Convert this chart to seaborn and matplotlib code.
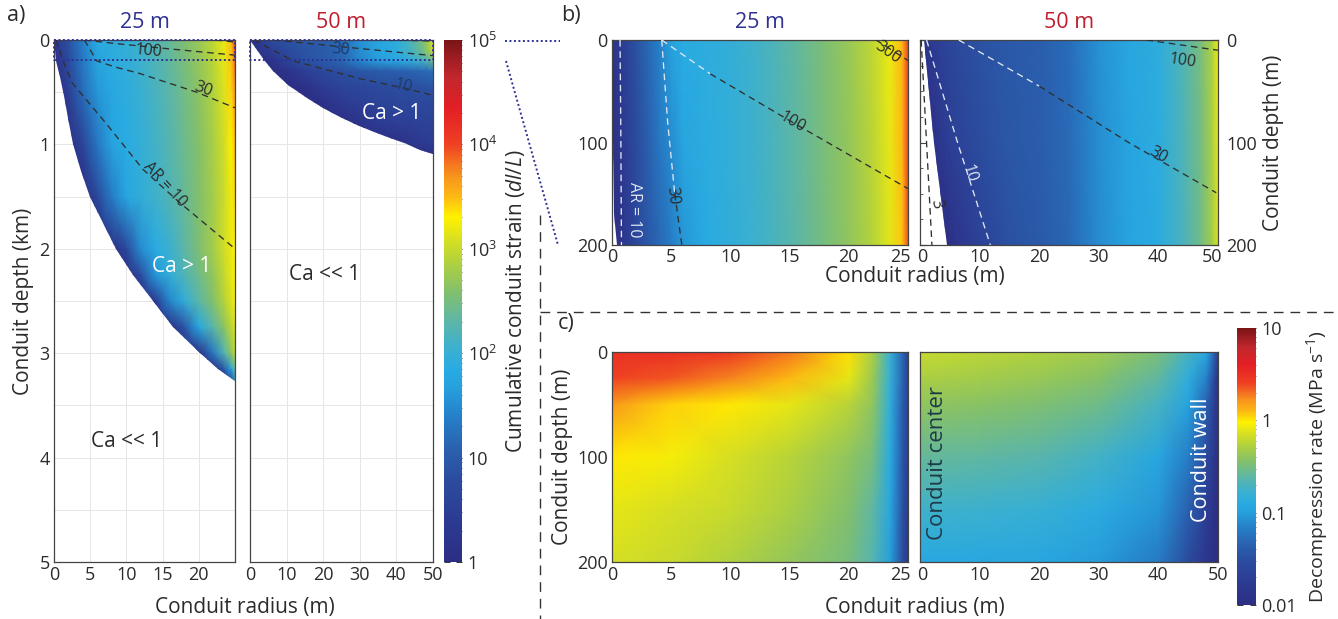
import numpy as np
import matplotlib
matplotlib.use("Agg")
import matplotlib.pyplot as plt
import matplotlib.transforms as mtrans
import seaborn as sns
from matplotlib.colors import LinearSegmentedColormap, LogNorm, Normalize
from matplotlib.patches import Polygon
from matplotlib.lines import Line2D
from matplotlib.cm import ScalarMappable
from matplotlib.ticker import MultipleLocator, NullFormatter

sns.set_theme(style="white")
plt.rcParams['font.family'] = ['Open Sans', 'DejaVu Sans']
plt.rcParams['mathtext.fontset'] = 'custom'
plt.rcParams['mathtext.rm'] = 'Open Sans'
plt.rcParams['mathtext.it'] = 'Open Sans:italic'

# ======================= DATA =======================
# colour map stops (fraction, colour)
cmap_pos = [0.0, 0.08, 0.16, 0.22, 0.28, 0.34, 0.37, 0.41, 0.46, 0.52, 0.58, 0.62, 0.66, 0.70, 0.74, 0.80, 0.87, 0.93, 1.0]
cmap_col = ['#2c2e83', '#2c3b92', '#2b4d9f', '#2a62b0', '#2581c9', '#27a3de', '#29abe2', '#3cb0cf',
            '#5cb6a8', '#84c06a', '#b5d33a', '#d9e021', '#fff200', '#fdb913', '#f7941d', '#ef4123',
            '#e31e25', '#c1272d', '#7a1416']

# ---- panel a, 25 m conduit (depth km) : log10 cumulative strain ----
a25_r = [0, 2, 4, 6, 8, 10, 12, 14, 16, 18, 20, 22, 23.5, 24.5, 25]
a25_z = [0, 0.5, 1.0, 1.5, 2.0, 2.25, 2.5, 2.75, 3.0, 3.15, 3.3]
a25_log = [
    [0.15, 0.85, 1.40, 1.85, 1.90, 1.97, 2.08, 2.22, 2.38, 2.55, 2.72, 2.95, 3.20, 3.50, 4.00],
    [0.00, 0.50, 1.20, 1.60, 1.80, 1.90, 2.02, 2.15, 2.30, 2.47, 2.65, 2.88, 3.12, 3.40, 3.70],
    [0.00, 0.00, 0.60, 1.30, 1.70, 1.85, 1.97, 2.10, 2.25, 2.42, 2.60, 2.83, 3.05, 3.30, 3.50],
    [0.00, 0.00, 0.00, 0.70, 1.35, 1.75, 1.95, 2.08, 2.22, 2.38, 2.58, 2.80, 3.02, 3.22, 3.40],
    [0.00, 0.00, 0.00, 0.00, 0.00, 0.70, 1.50, 1.85, 2.05, 2.30, 2.55, 2.80, 3.05, 3.20, 3.30],
    [0.00, 0.00, 0.00, 0.00, 0.00, 0.00, 0.80, 1.60, 1.95, 2.20, 2.45, 2.70, 2.98, 3.18, 3.28],
    [0.00, 0.00, 0.00, 0.00, 0.00, 0.00, 0.00, 0.40, 1.45, 1.95, 2.30, 2.60, 2.90, 3.12, 3.25],
    [0.00, 0.00, 0.00, 0.00, 0.00, 0.00, 0.00, 0.00, 0.00, 0.90, 1.75, 2.30, 2.65, 2.95, 3.10],
    [0.00, 0.00, 0.00, 0.00, 0.00, 0.00, 0.00, 0.00, 0.00, 0.00, 0.00, 1.30, 2.20, 2.70, 2.95],
    [0.00, 0.00, 0.00, 0.00, 0.00, 0.00, 0.00, 0.00, 0.00, 0.00, 0.00, 0.00, 1.00, 1.80, 2.40],
    [0.00, 0.00, 0.00, 0.00, 0.00, 0.00, 0.00, 0.00, 0.00, 0.00, 0.00, 0.00, 0.00, 0.00, 1.50],
]
a25_bnd_r = [0, 0.1, 0.3, 0.8, 1.4, 2.0, 2.6, 3.7, 5.0, 6.8, 8.6, 10.9, 13.3, 16.5, 20.2, 22.6, 25.0]
a25_bnd_z = [0, 0.1, 0.2, 0.35, 0.54, 0.75, 1.0, 1.25, 1.5, 1.75, 2.0, 2.25, 2.46, 2.75, 3.0, 3.15, 3.27]
a25_ar10_r = [0.3, 1.2, 2.5, 7.2, 12.3, 17.4, 25]
a25_ar10_z = [0, 0.19, 0.41, 0.8, 1.24, 1.56, 2.0]
a25_ar30_r = [4.2, 5.9, 8.5, 11.8, 19.7, 25]
a25_ar30_z = [0, 0.2, 0.26, 0.32, 0.5, 0.65]
a25_ar100_r = [4.2, 8.3, 15.2, 25]
a25_ar100_z = [0, 0.033, 0.08, 0.145]
a25_ar300_r = [22.3, 25]
a25_ar300_z = [0, 0.02]

# ---- panel a, 50 m conduit (depth km) ----
a50_r = [0, 5, 10, 15, 20, 25, 30, 35, 40, 44, 47, 49, 50]
a50_z = [0, 0.1, 0.2, 0.3, 0.45, 0.6, 0.8, 1.0, 1.1]
a50_log = [
    [0.00, 0.65, 0.87, 0.97, 1.05, 1.20, 1.55, 1.75, 1.90, 2.20, 2.50, 2.85, 3.20],
    [0.00, 0.45, 0.75, 0.90, 1.00, 1.15, 1.50, 1.72, 1.88, 2.15, 2.45, 2.80, 3.10],
    [0.00, 0.10, 0.55, 0.85, 0.98, 1.12, 1.45, 1.65, 1.78, 1.95, 2.10, 2.30, 2.50],
    [0.00, 0.00, 0.15, 0.50, 0.70, 0.82, 0.92, 1.00, 1.05, 1.10, 1.15, 1.20, 1.25],
    [0.00, 0.00, 0.00, 0.10, 0.45, 0.60, 0.68, 0.74, 0.80, 0.83, 0.86, 0.88, 0.90],
    [0.00, 0.00, 0.00, 0.00, 0.10, 0.40, 0.52, 0.60, 0.65, 0.68, 0.70, 0.72, 0.73],
    [0.00, 0.00, 0.00, 0.00, 0.00, 0.00, 0.20, 0.40, 0.48, 0.52, 0.55, 0.56, 0.57],
    [0.00, 0.00, 0.00, 0.00, 0.00, 0.00, 0.00, 0.00, 0.00, 0.25, 0.35, 0.40, 0.42],
    [0.00, 0.00, 0.00, 0.00, 0.00, 0.00, 0.00, 0.00, 0.00, 0.00, 0.00, 0.00, 0.00],
]
a50_bnd_r = [0, 0.6, 2.0, 4.2, 6.4, 10.5, 15.5, 20.0, 24.7, 29.2, 33.8, 38.3, 42.9, 46.5, 50]
a50_bnd_z = [0, 0.03, 0.1, 0.2, 0.3, 0.43, 0.56, 0.65, 0.74, 0.81, 0.88, 0.94, 1.0, 1.05, 1.09]
a50_ar10_r = [1.1, 11.8, 30, 42, 50]
a50_ar10_z = [0, 0.2, 0.37, 0.46, 0.53]
a50_ar30_r = [6.5, 28, 49.7, 50]
a50_ar30_z = [0, 0.075, 0.149, 0.15]
a50_ar100_r = [38, 50]
a50_ar100_z = [0, 0.01]

# ---- panel b, 25 m conduit (depth m) ----
b25_r = [0, 1, 2, 3, 4, 5, 6, 8, 10, 12, 14, 16, 18, 20, 22, 23.5, 24.5, 25]
b25_z = [0, 100, 200]
b25_log = [
    [0.15, 0.50, 0.85, 1.15, 1.40, 1.70, 1.85, 1.90, 1.97, 2.08, 2.22, 2.38, 2.55, 2.72, 2.95, 3.20, 3.50, 4.00],
    [0.10, 0.40, 0.75, 1.05, 1.30, 1.50, 1.75, 1.88, 1.96, 2.07, 2.20, 2.36, 2.53, 2.70, 2.93, 3.18, 3.50, 4.00],
    [0.00, 0.30, 0.65, 0.95, 1.15, 1.35, 1.60, 1.85, 1.95, 2.05, 2.18, 2.34, 2.50, 2.68, 2.90, 3.15, 3.45, 3.95],
]
b25_bnd_r = [0, 0.05, 0.2, 0.45]
b25_bnd_z = [0, 100, 170, 200]
b25_ar10_r = [0.68, 0.75, 0.8]
b25_ar10_z = [0, 100, 200]
b25_ar30_r = [4.2, 4.7, 5.3, 5.9]
b25_ar30_z = [0, 80, 150, 200]
b25_ar100_r = [4.2, 8.3, 15.2, 24.7, 25]
b25_ar100_z = [0, 33, 80, 143, 145]
b25_ar300_r = [22.3, 25]
b25_ar300_z = [0, 20]

# ---- panel b, 50 m conduit (depth m) ----
b50_r = [0, 1, 2, 3, 4, 5, 6, 8, 10, 12, 15, 20, 25, 30, 35, 40, 44, 47, 49, 50]
b50_z = [0, 100, 200]
b50_log = [
    [0.00, 0.25, 0.40, 0.50, 0.58, 0.65, 0.72, 0.80, 0.87, 0.92, 0.98, 1.05, 1.20, 1.55, 1.75, 1.90, 2.20, 2.50, 2.85, 3.20],
    [0.00, 0.00, 0.10, 0.25, 0.38, 0.48, 0.56, 0.68, 0.78, 0.86, 0.95, 1.03, 1.18, 1.52, 1.73, 1.88, 2.18, 2.48, 2.82, 3.15],
    [0.00, 0.00, 0.00, 0.00, 0.00, 0.10, 0.22, 0.40, 0.55, 0.68, 0.85, 0.98, 1.15, 1.50, 1.72, 1.87, 2.15, 2.45, 2.80, 3.10],
]
b50_bnd_r = [0.6, 2.4, 4.5]
b50_bnd_z = [0, 100, 200]
b50_ar3_r = [0.2, 1.1, 2.0]
b50_ar3_z = [0, 100, 200]
b50_ar10_r = [1.1, 6.3, 11.8]
b50_ar10_z = [0, 100, 200]
b50_ar30_r = [6.5, 20, 35, 49.7]
b50_ar30_z = [0, 45, 100, 149]
b50_ar100_r = [38, 50]
b50_ar100_z = [0, 10]

# ---- panel c : log10 decompression rate (MPa/s) ----
c_z = [0, 25, 50, 100, 150, 200]
c25_r = [0, 5, 10, 15, 20, 22, 23.5, 24.5, 25]
c25_log = [
    [0.50, 0.50, 0.45, 0.28, 0.02, -0.30, -0.80, -1.30, -1.70],
    [0.40, 0.35, 0.25, 0.10, -0.10, -0.35, -0.82, -1.30, -1.70],
    [0.20, 0.05, 0.00, -0.10, -0.25, -0.40, -0.85, -1.35, -1.70],
    [0.00, -0.05, -0.15, -0.25, -0.40, -0.50, -0.90, -1.40, -1.75],
    [-0.10, -0.15, -0.20, -0.30, -0.45, -0.60, -0.95, -1.45, -1.80],
    [-0.15, -0.20, -0.28, -0.38, -0.50, -0.65, -1.00, -1.50, -1.85],
]
c50_r = [0, 10, 20, 30, 40, 45, 48, 49.5, 50]
c50_log = [
    [-0.20, -0.24, -0.28, -0.34, -0.48, -0.72, -0.92, -1.40, -1.80],
    [-0.30, -0.33, -0.37, -0.43, -0.60, -0.85, -1.15, -1.65, -1.90],
    [-0.40, -0.42, -0.46, -0.53, -0.72, -0.98, -1.35, -1.75, -1.95],
    [-0.58, -0.60, -0.64, -0.74, -0.95, -1.18, -1.55, -1.85, -2.00],
    [-0.75, -0.77, -0.80, -0.88, -1.05, -1.35, -1.72, -1.92, -2.00],
    [-0.92, -0.93, -0.95, -1.02, -1.20, -1.55, -1.85, -1.97, -2.00],
]

strain_ticks = [1, 10, 1e2, 1e3, 1e4, 1e5]
strain_labels = ['1', '10', '10$^2$', '10$^3$', '10$^4$', '10$^5$']
rate_ticks = [0.01, 0.1, 1, 10]
rate_labels = ['0.01', '0.1', '1', '10']

# ======================= FIGURE =======================
W, H = 1338, 619
fig = plt.figure(figsize=(W / 100, H / 100), dpi=100)
cmap = LinearSegmentedColormap.from_list('strain', list(zip(cmap_pos, cmap_col)), N=512)
norm_s = Normalize(0, 5)
norm_c = Normalize(-2, 1)

NAVY = '#2e3192'
RED = '#be1e2d'
TXT = '#2b2b2b'
LIGHT = '#dfe7f3'
DARK = '#303030'
DASH = (0, (5, 3.5))
FS_TICK = 13
FS_LAB = 15
FS_TITLE = 15.5
FS_TXT = 15
FS_CL = 11.5


def box(x0, y0, x1, y1):
    return [x0 / W, 1 - y1 / H, (x1 - x0) / W, (y1 - y0) / H]


def style(ax):
    for s in ax.spines.values():
        s.set_color('#444444')
        s.set_linewidth(0.9)
    ax.tick_params(direction='in', length=4, width=0.8, color='#444444',
                   labelcolor=TXT, labelsize=FS_TICK, pad=3)
    ax.tick_params(which='minor', direction='in', length=2.5, width=0.6, color='#444444')


def field(ax, r, z, vals, norm, clip_r=None, clip_z=None):
    R, Z = np.meshgrid(r, z)
    m = ax.pcolormesh(R, Z, np.array(vals), cmap=cmap, norm=norm, shading='gouraud', zorder=1)
    if clip_r is not None:
        poly = Polygon(np.column_stack([clip_r, clip_z]), closed=True, transform=ax.transData)
        m.set_clip_path(poly)
    return m


def contour(ax, r, z, color=DARK, split=None):
    if split is None:
        sns.lineplot(x=r, y=z, ax=ax, sort=False, estimator=None, color=color,
                     lw=0.95, linestyle=DASH, zorder=3)
    else:
        sns.lineplot(x=r[:split + 1], y=z[:split + 1], ax=ax, sort=False, estimator=None,
                     color=LIGHT, lw=0.95, linestyle=DASH, zorder=3)
        sns.lineplot(x=r[split:], y=z[split:], ax=ax, sort=False, estimator=None,
                     color=DARK, lw=0.95, linestyle=DASH, zorder=3)


def clabel(ax, x, y, s, rot, color=TXT, size=FS_CL):
    ax.text(x, y, s, rotation=rot, color=color, fontsize=size, ha='center', va='center',
            rotation_mode='anchor', zorder=4)


def cbar(cax, norm, ticks, labels, label, lsize):
    cb = fig.colorbar(ScalarMappable(norm=norm, cmap=cmap), cax=cax)
    cb.set_ticks(ticks)
    cb.set_ticklabels(labels)
    cb.outline.set_visible(False)
    cax.tick_params(direction='in', length=4, width=0.7, color='#333333', labelsize=FS_TICK,
                    labelcolor=TXT, pad=4, left=True, right=True)
    cax.tick_params(which='minor', direction='in', length=2.5, width=0.5, color='#333333',
                    left=True, right=True)
    cax.yaxis.set_minor_formatter(NullFormatter())
    cb.set_label(label, fontsize=lsize, color=TXT, labelpad=5)
    return cb


def shift_label(lab, ha, dx):
    lab.set_horizontalalignment(ha)
    lab.set_transform(lab.get_transform() + mtrans.ScaledTranslation(dx / 100, 0, fig.dpi_scale_trans))


# ---------- panel a ----------
axa1 = fig.add_axes(box(54, 40, 235, 562))
axa2 = fig.add_axes(box(250, 40, 433, 562))
for ax, R_, xt in [(axa1, 25, [0, 5, 10, 15, 20]), (axa2, 50, [0, 10, 20, 30, 40, 50])]:
    style(ax)
    ax.set_xlim(0, R_)
    ax.set_ylim(5, 0)
    ax.set_xticks(xt)
    ax.set_yticks([0, 1, 2, 3, 4, 5])
    ax.yaxis.set_minor_locator(MultipleLocator(0.5))
    ax.grid(True, which='both', axis='y', color='#e6e6e6', lw=0.7)
    ax.grid(True, which='major', axis='x', color='#e6e6e6', lw=0.7)
    ax.set_axisbelow(True)

field(axa1, a25_r, a25_z, a25_log, norm_s,
      a25_bnd_r + [25], a25_bnd_z + [0])
field(axa2, a50_r, a50_z, a50_log, norm_s,
      a50_bnd_r + [50], a50_bnd_z + [0])
axa2.set_yticklabels([])
axa1.set_ylabel('Conduit depth (km)', fontsize=FS_LAB, color=TXT, labelpad=4)
axa1.set_title('25 m', color=NAVY, fontsize=FS_TITLE, pad=9)
axa2.set_title('50 m', color=RED, fontsize=FS_TITLE, pad=9)

contour(axa1, a25_ar10_r, a25_ar10_z)
contour(axa1, a25_ar30_r, a25_ar30_z)
contour(axa1, a25_ar100_r, a25_ar100_z)
contour(axa1, a25_ar300_r, a25_ar300_z)
contour(axa2, a50_ar10_r, a50_ar10_z)
contour(axa2, a50_ar30_r, a50_ar30_z)
contour(axa2, a50_ar100_r, a50_ar100_z)
clabel(axa1, 13, 0.11, '100', -5)
clabel(axa1, 20.6, 0.47, '30', -20)
clabel(axa1, 15.3, 1.38, 'AR = 10', -47)
clabel(axa2, 24.7, 0.095, '30', -5, color='#1f3a6a')
clabel(axa2, 42, 0.44, '10', -14, color='#1f3a6a')

axa1.text(17.6, 2.17, 'Ca > 1', color='white', fontsize=FS_TXT, ha='center', va='center', zorder=4)
axa1.text(10, 3.85, 'Ca << 1', color=TXT, fontsize=FS_TXT, ha='center', va='center', zorder=4)
axa2.text(38.8, 0.7, 'Ca > 1', color='white', fontsize=FS_TXT, ha='center', va='center', zorder=4)
axa2.text(20.3, 2.25, 'Ca << 1', color=TXT, fontsize=FS_TXT, ha='center', va='center', zorder=4)

for ax, R_ in [(axa1, 25), (axa2, 50)]:
    ax.plot([0, R_, R_, 0, 0], [0, 0, 0.19, 0.19, 0], ls=(0, (1, 1.3)), color=NAVY,
            lw=1.4, clip_on=False, zorder=5)

cax1 = fig.add_axes(box(444, 40, 462, 562))
cbar(cax1, LogNorm(1, 1e5), strain_ticks, strain_labels,
     'Cumulative conduit strain ($\\mathit{dl/L}$)', FS_LAB)

fig.text(245 / W, 1 - 607 / H, 'Conduit radius (m)', fontsize=FS_LAB, color=TXT, ha='center', va='center')

# ---------- panel b ----------
axb1 = fig.add_axes(box(612, 40, 908, 245))
axb2 = fig.add_axes(box(920, 40, 1218, 245))
for ax, R_, xt in [(axb1, 25, [0, 5, 10, 15, 20, 25]), (axb2, 50, [0, 10, 20, 30, 40, 50])]:
    style(ax)
    ax.set_xlim(0, R_)
    ax.set_ylim(200, 0)
    ax.set_xticks(xt)
    ax.set_yticks([0, 100, 200])
    ax.yaxis.set_minor_locator(MultipleLocator(25))
    ax.set_facecolor('white')
    ax.tick_params(axis='x', pad=2)

field(axb1, b25_r, b25_z, b25_log, norm_s, b25_bnd_r + [25, 25], b25_bnd_z + [200, 0])
field(axb2, b50_r, b50_z, b50_log, norm_s, b50_bnd_r + [50, 50], b50_bnd_z + [200, 0])
axb2.yaxis.tick_right()
axb2.yaxis.set_label_position('right')
axb2.tick_params(axis='y', which='both', left=True, right=True)
axb2.tick_params(axis='y', pad=6)
axb2.set_ylabel('Conduit depth (m)', fontsize=FS_LAB, color=TXT, labelpad=4)
axb1.set_title('25 m', color=NAVY, fontsize=FS_TITLE, pad=9)
axb2.set_title('50 m', color=RED, fontsize=FS_TITLE, pad=9)

contour(axb1, b25_ar10_r, b25_ar10_z, color=LIGHT)
contour(axb1, b25_ar30_r, b25_ar30_z, split=2)
contour(axb1, b25_ar100_r, b25_ar100_z, split=1)
contour(axb1, b25_ar300_r, b25_ar300_z)
contour(axb2, b50_ar3_r, b50_ar3_z)
contour(axb2, b50_ar10_r, b50_ar10_z, color=LIGHT)
contour(axb2, b50_ar30_r, b50_ar30_z, split=1)
contour(axb2, b50_ar100_r, b50_ar100_z)
clabel(axb1, 23.3, 12, '300', -35)
clabel(axb1, 15.2, 80, '100', -30)
clabel(axb1, 5.1, 152, '30', -84)
clabel(axb1, 1.9, 166, 'AR = 10', -90, color=LIGHT)
clabel(axb2, 2.7, 160, '3', -80)
clabel(axb2, 8.3, 130, '10', -73, color=LIGHT)
clabel(axb2, 40, 112, '30', -30)
clabel(axb2, 44, 20, '100', -8)

fig.text(915 / W, 1 - 277 / H, 'Conduit radius (m)', fontsize=FS_LAB, color=TXT, ha='center', va='center')

# ---------- panel c ----------
axc1 = fig.add_axes(box(612, 352, 908, 562))
axc2 = fig.add_axes(box(920, 352, 1218, 562))
for ax, R_, xt, r_, v_ in [(axc1, 25, [0, 5, 10, 15, 20, 25], c25_r, c25_log),
                           (axc2, 50, [0, 10, 20, 30, 40, 50], c50_r, c50_log)]:
    style(ax)
    field(ax, r_, c_z, v_, norm_c)
    ax.set_xlim(0, R_)
    ax.set_ylim(200, 0)
    ax.set_xticks(xt)
    ax.set_yticks([0, 100, 200])
axc2.set_yticklabels([])
axc1.set_ylabel('Conduit depth (m)', fontsize=FS_LAB, color=TXT, labelpad=3)
axc2.text(3.0, 106, 'Conduit center', rotation=90, color='#1e3a48', fontsize=16,
          ha='center', va='center', zorder=4)
axc2.text(47.3, 103, 'Conduit wall', rotation=90, color='white', fontsize=15.5,
          ha='center', va='center', zorder=4)

cax2 = fig.add_axes(box(1237, 328, 1256, 605))
cbar(cax2, LogNorm(0.01, 10), rate_ticks, rate_labels,
     'Decompression rate (MPa s$^{-1}$)', 14)

fig.text(915 / W, 1 - 607 / H, 'Conduit radius (m)', fontsize=FS_LAB, color=TXT, ha='center', va='center')

# ---------- panel letters & separators ----------
fig.text(7 / W, 1 - 16 / H, 'a)', fontsize=FS_TITLE, color=TXT, ha='left', va='center')
fig.text(561 / W, 1 - 16 / H, 'b)', fontsize=FS_TITLE, color=TXT, ha='left', va='center')
fig.text(558 / W, 1 - 323 / H, 'c)', fontsize=FS_TITLE, color=TXT, ha='left', va='center')


def fline(x0, y0, x1, y1, **kw):
    fig.add_artist(Line2D([x0 / W, x1 / W], [1 - y0 / H, 1 - y1 / H], transform=fig.transFigure, **kw))


fline(540, 215, 540, 619, color='#333333', lw=1.0, ls=(0, (7, 5)))
fline(540, 312, 1338, 312, color='#333333', lw=1.0, ls=(0, (7, 5)))
fline(505, 41, 560, 41, color=NAVY, lw=1.4, ls=(0, (1, 1.3)))
fline(506, 61, 558, 245, color=NAVY, lw=1.4, ls=(0, (1, 1.3)))

# keep the adjacent tick labels apart
fig.canvas.draw()
for left_ax, right_ax in [(axb1, axb2), (axc1, axc2)]:
    shift_label(left_ax.get_xticklabels()[-1], 'right', 3)
    shift_label(right_ax.get_xticklabels()[0], 'left', -3)
shift_label(axb2.get_xticklabels()[-1], 'right', 4)

fig.savefig('out.png', dpi=100)
